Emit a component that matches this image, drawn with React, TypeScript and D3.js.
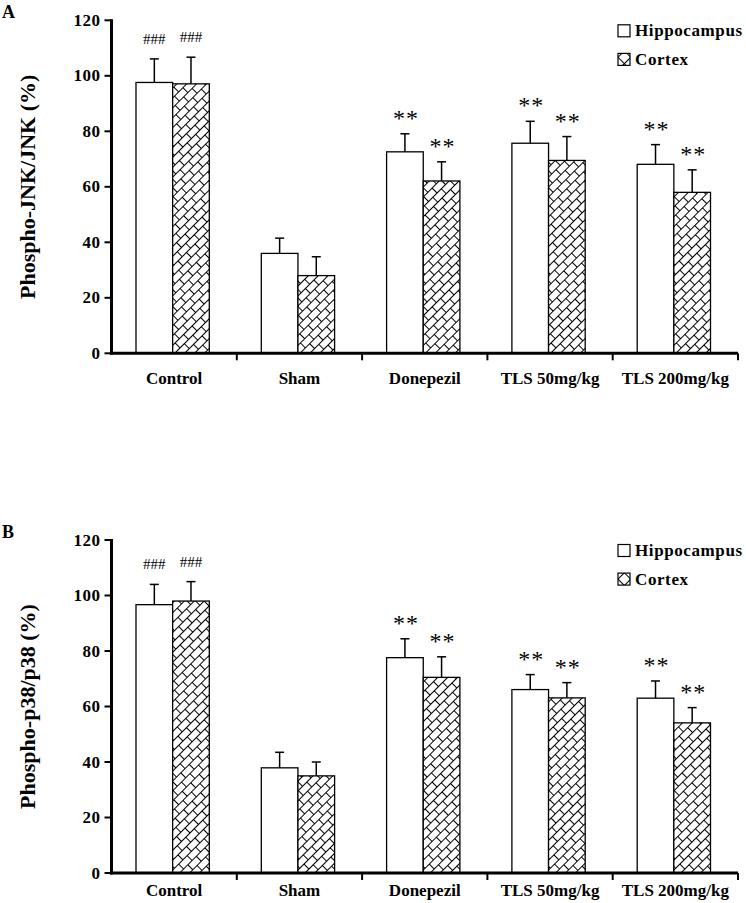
import React from "react";
import * as d3 from "d3";

const categories = ["Control", "Sham", "Donepezil", "TLS 50mg/kg", "TLS 200mg/kg"];
const seriesNames = ["Hippocampus", "Cortex"];
const yTicks = [0, 20, 40, 60, 80, 100, 120];

const jnkHippo = [97.6, 36.0, 72.6, 75.7, 68.1];
const jnkHippoErr = [8.5, 5.5, 6.5, 7.9, 7.1];
const jnkCortex = [97.1, 28.0, 62.1, 69.5, 58.0];
const jnkCortexErr = [9.6, 6.8, 6.9, 8.6, 8.1];

const p38Hippo = [96.7, 37.9, 77.6, 66.1, 63.0];
const p38HippoErr = [7.3, 5.6, 6.8, 5.4, 6.2];
const p38Cortex = [98.0, 35.0, 70.5, 63.1, 54.1];
const p38CortexErr = [7.0, 5.0, 7.4, 5.5, 5.5];

const marks = ["###", "", "**", "**", "**"];

const FONT = "'Liberation Serif', 'Times New Roman', serif";

type PanelProps = {
  letter: string;
  yLabel: string;
  hippo: number[];
  hippoErr: number[];
  cortex: number[];
  cortexErr: number[];
  top: number;
  bottom: number;
  labelOffset: number;
};

function Panel({ letter, yLabel, hippo, hippoErr, cortex, cortexErr, top, bottom, labelOffset }: PanelProps) {
  const left = 111.5;
  const right = 738;
  const y = d3.scaleLinear().domain([0, 120]).range([bottom, top]);
  const x0 = d3.scaleBand().domain(categories).range([left, right]).padding(0);
  const bw = x0.bandwidth();
  const groupW = bw * 0.585;
  const x1 = d3
    .scaleBand()
    .domain(seriesNames)
    .range([(bw - groupW) / 2 - 1.5, (bw + groupW) / 2 - 1.5])
    .padding(0);
  const barW = x1.bandwidth();
  const rows = categories.map((c, i) => ({
    c,
    vals: [
      { s: seriesNames[0], v: hippo[i], e: hippoErr[i] },
      { s: seriesNames[1], v: cortex[i], e: cortexErr[i] },
    ],
    mark: marks[i],
  }));
  const boundaries = categories.map((c) => (x0(c) as number) + bw);
  const midY = (top + bottom) / 2;

  return (
    <g>
      <text x={2} y={top - 2} fontFamily={FONT} fontWeight="bold" fontSize={18}>
        {letter}
      </text>
      <text
        transform={`translate(27,${midY}) rotate(-90)`}
        textAnchor="middle"
        dominantBaseline="central"
        fontFamily={FONT}
        fontWeight="bold"
        fontSize={22}
      >
        {yLabel}
      </text>
      {rows.map((r) => (
        <g key={r.c} transform={`translate(${x0(r.c)},0)`}>
          {r.vals.map((d) => {
            const bx = x1(d.s) as number;
            const cx = bx + barW / 2;
            const topE = y(d.v + d.e);
            return (
              <g key={d.s}>
                <line x1={cx} x2={cx} y1={y(d.v)} y2={topE} stroke="#000" strokeWidth={1.5} />
                <line x1={cx - 4.5} x2={cx + 4.5} y1={topE} y2={topE} stroke="#000" strokeWidth={1.5} />
                <rect
                  x={bx}
                  y={y(d.v)}
                  width={barW}
                  height={y(0) - y(d.v)}
                  fill={d.s === "Cortex" ? "url(#brick)" : "#fff"}
                  stroke="#000"
                  strokeWidth={1.3}
                />
                {r.mark === "###" && (
                  <text
                    x={cx}
                    y={topE - 15}
                    textAnchor="middle"
                    fontFamily={FONT}
                    fontSize={15}
                  >
                    {r.mark}
                  </text>
                )}
                {r.mark === "**" && (
                  <text
                    x={cx + 1}
                    y={topE - 8}
                    textAnchor="middle"
                    fontFamily={FONT}
                    fontSize={24}
                    letterSpacing={1}
                  >
                    {r.mark}
                  </text>
                )}
              </g>
            );
          })}
          <text
            x={bw / 2}
            y={bottom + labelOffset}
            textAnchor="middle"
            dominantBaseline="central"
            fontFamily={FONT}
            fontWeight="bold"
            fontSize={17}
          >
            {r.c}
          </text>
        </g>
      ))}
      {/* y axis */}
      <line x1={left} x2={left} y1={y(120) - 1} y2={y(0) + 1.5} stroke="#000" strokeWidth={3} />
      {yTicks.map((t) => (
        <g key={t}>
          <line x1={left - 7} x2={left} y1={y(t)} y2={y(t)} stroke="#000" strokeWidth={2} />
          <text
            x={left - 11}
            y={y(t)}
            textAnchor="end"
            dominantBaseline="central"
            fontFamily={FONT}
            fontWeight="bold"
            fontSize={17}
            letterSpacing={0.5}
          >
            {t}
          </text>
        </g>
      ))}
      {/* x axis */}
      <line x1={left - 1.5} x2={right} y1={y(0)} y2={y(0)} stroke="#000" strokeWidth={3} />
      {boundaries.map((b, i) => (
        <line key={i} x1={b} x2={b} y1={y(0)} y2={y(0) + 7} stroke="#000" strokeWidth={2} />
      ))}
      {/* legend */}
      {seriesNames.map((s, i) => {
        const cy = top + 10.5 + i * 28.6;
        return (
          <g key={s}>
            <rect
              x={618}
              y={cy - 6}
              width={12}
              height={12}
              fill={s === "Cortex" ? "url(#brickSmall)" : "#fff"}
              stroke="#000"
              strokeWidth={1.2}
            />
            <text
              x={635}
              y={cy}
              dominantBaseline="central"
              fontFamily={FONT}
              fontWeight="bold"
              fontSize={17}
              letterSpacing={0.6}
            >
              {s}
            </text>
          </g>
        );
      })}
    </g>
  );
}

export default function App() {
  return (
    <svg
      width={746}
      height={903}
      style={{ position: "absolute", left: 0, top: 0, background: "#fff" }}
    >
      <defs>
        <pattern
          id="brick"
          patternUnits="userSpaceOnUse"
          width={12}
          height={14}
          patternTransform="rotate(-45)"
        >
          <rect width={12} height={14} fill="#fff" />
          <line x1={0} x2={12} y1={0.5} y2={0.5} stroke="#000" strokeWidth={1} />
          <line x1={0} x2={12} y1={7.5} y2={7.5} stroke="#000" strokeWidth={1} />
          <line x1={0.5} x2={0.5} y1={0.5} y2={7.5} stroke="#000" strokeWidth={1} />
          <line x1={6.5} x2={6.5} y1={7.5} y2={14} stroke="#000" strokeWidth={1} />
        </pattern>
        <pattern
          id="brickSmall"
          patternUnits="userSpaceOnUse"
          width={9}
          height={9}
          patternTransform="rotate(-45)"
        >
          <rect width={9} height={9} fill="#fff" />
          <line x1={0} x2={9} y1={0.5} y2={0.5} stroke="#000" strokeWidth={1} />
          <line x1={0.5} x2={0.5} y1={0.5} y2={9} stroke="#000" strokeWidth={1} />
        </pattern>
      </defs>
      <rect width={746} height={903} fill="#fff" />
      <Panel
        letter="A"
        yLabel="Phospho-JNK/JNK (%)"
        hippo={jnkHippo}
        hippoErr={jnkHippoErr}
        cortex={jnkCortex}
        cortexErr={jnkCortexErr}
        top={20.3}
        bottom={353.3}
        labelOffset={25}
      />
      <Panel
        letter="B"
        yLabel="Phospho-p38/p38 (%)"
        hippo={p38Hippo}
        hippoErr={p38HippoErr}
        cortex={p38Cortex}
        cortexErr={p38CortexErr}
        top={540}
        bottom={873}
        labelOffset={17}
      />
    </svg>
  );
}
